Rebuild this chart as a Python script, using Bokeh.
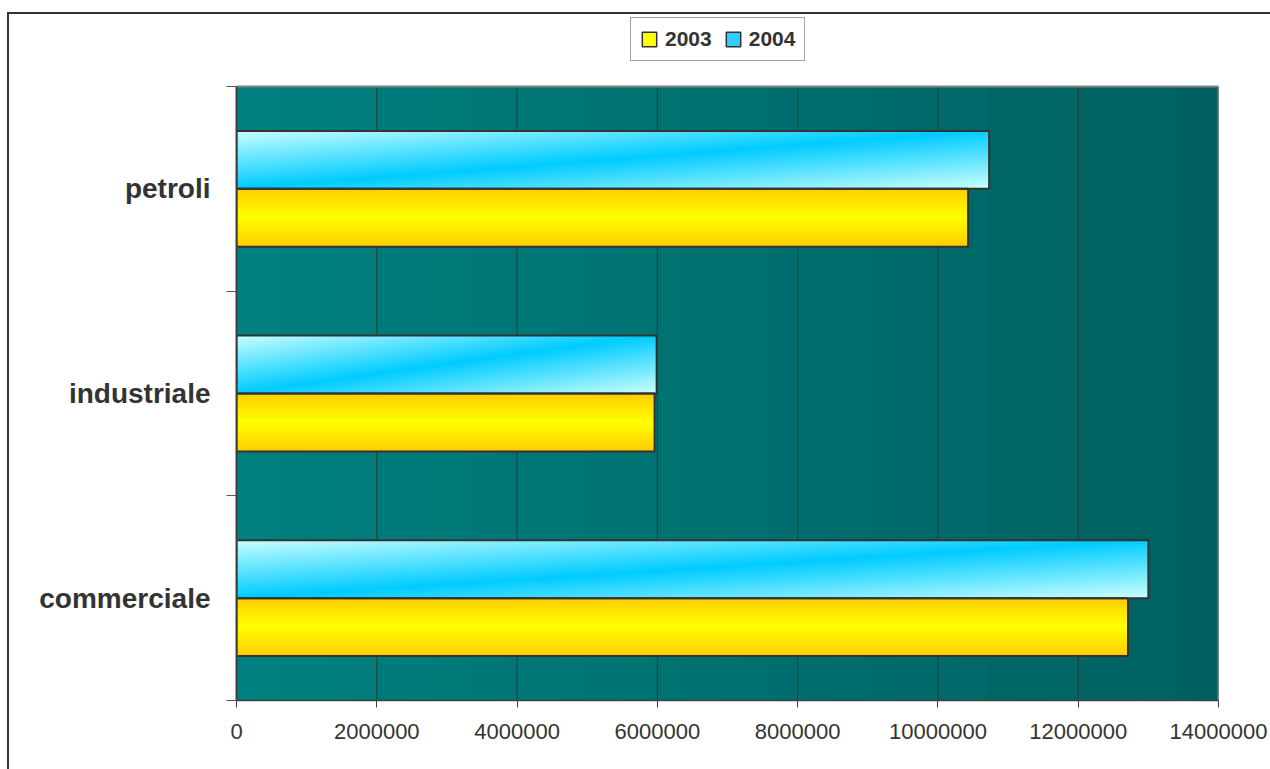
import numpy as np
from bokeh.plotting import figure
from bokeh.layouts import column
from bokeh.models import (FixedTicker, Legend, LegendItem, ColumnDataSource, Div)
from bokeh.embed import file_html
from bokeh.resources import INLINE

# ---- data -------------------------------------------------------------
categories = ["commerciale", "industriale", "petroli"]
series_names = ["2003", "2004"]
values_2003 = [12710000, 5960000, 10430000]
values_2004 = [13000000, 5990000, 10730000]
x_ticks = [0, 2000000, 4000000, 6000000, 8000000, 10000000, 12000000, 14000000]
x_tick_labels = ["0", "2000000", "4000000", "6000000", "8000000",
                 "10000000", "12000000", "14000000"]

# ---- colours ----------------------------------------------------------
YELLOW_MID = (255, 255, 0)
YELLOW_EDGE = (255, 204, 0)
CYAN = (0, 204, 255)
CYAN_LIGHT = (204, 255, 255)
TEAL_LEFT = (0, 128, 128)
TEAL_RIGHT = (0, 96, 96)
INK = "#333333"


def to_rgba(rgb):
    """Pack a (rows, cols, 3) float array into Bokeh's uint32 RGBA image."""
    rows, cols, _ = rgb.shape
    arr = np.empty((rows, cols, 4), dtype=np.uint8)
    arr[..., :3] = np.clip(np.round(rgb), 0, 255).astype(np.uint8)
    arr[..., 3] = 255
    return arr.view(np.uint32).reshape(rows, cols)


def lerp(c0, c1, t):
    c0 = np.array(c0, dtype=float)
    c1 = np.array(c1, dtype=float)
    return c0 + (c1 - c0) * t[..., None]


def yellow_fill(rows=64):
    b = (np.arange(rows) + 0.5) / rows             # 0 at top, 1 at bottom
    t = np.abs(2 * b - 1)[:, None] * np.ones((1, 2))
    img = lerp(YELLOW_MID, YELLOW_EDGE, t)
    return to_rgba(np.flipud(img))                 # image rows start at bottom


def cyan_fill(rows=64, cols=320):
    b = (np.arange(rows) + 0.5) / rows
    a = (np.arange(cols) + 0.5) / cols
    t = np.abs(a[None, :] + b[:, None] - 1)        # diagonal band
    img = lerp(CYAN, CYAN_LIGHT, t)
    return to_rgba(np.flipud(img))


def teal_fill(cols=256):
    a = (np.arange(cols) + 0.5) / cols
    t = np.ones((2, 1)) * a[None, :]
    return to_rgba(lerp(TEAL_LEFT, TEAL_RIGHT, t))


X_MAX = x_ticks[-1]
N = len(categories)

# The frame reaches up to the legend row; the plotting area itself
# spans y = 0..N (pixels 86..700), the band above holds the legend.
FRAME_TOP, AREA_TOP, AREA_BOTTOM = 14, 86, 700
y_top = N * (AREA_BOTTOM - FRAME_TOP) / (AREA_BOTTOM - AREA_TOP)

p = figure(width=1270, height=769, x_range=(0, X_MAX), y_range=(0, y_top),
           output_backend="svg", toolbar_location=None,
           min_border_left=236, min_border_right=52,
           min_border_top=FRAME_TOP, min_border_bottom=769 - AREA_BOTTOM)
p.background_fill_color = "white"
p.border_fill_color = "white"
p.outline_line_color = None
p.xgrid.visible = False
p.ygrid.visible = False

# plot-area gradient
p.image_rgba(image=[teal_fill()], x=0, y=0, dw=X_MAX, dh=N, level="image")

# vertical grid lines at the value ticks
p.segment(x0=x_ticks, y0=0, x1=x_ticks, y1=N, line_color="#2a3a3a",
          line_width=1)

# top and right edges of the plotting area
p.line(x=[0, X_MAX, X_MAX], y=[N, N, 0], line_color="#808080", line_width=2)

# ---- bars -------------------------------------------------------------
bar_h = 0.283
centers = np.arange(N) + 0.5
y03 = centers - bar_h / 2
y04 = centers + bar_h / 2

img_src = ColumnDataSource(dict(
    image=[yellow_fill() for _ in categories] + [cyan_fill() for _ in categories],
    x=[0] * (2 * N),
    y=list(y03 - bar_h / 2) + list(y04 - bar_h / 2),
    dw=list(values_2003) + list(values_2004),
    dh=[bar_h] * (2 * N),
))
p.image_rgba(image="image", x="x", y="y", dw="dw", dh="dh", source=img_src)

p.hbar(y=y03, height=bar_h, left=0, right=values_2003,
       fill_alpha=0, line_color=INK, line_width=2)
p.hbar(y=y04, height=bar_h, left=0, right=values_2004,
       fill_alpha=0, line_color=INK, line_width=2)

# legend swatches (kept below the visible range)
sw03 = p.hbar(y=[-5], height=[0.1], left=[0], right=[1], fill_color="#FFFF00",
              line_color=INK, line_width=1.5)
sw04 = p.hbar(y=[-5], height=[0.1], left=[0], right=[1], fill_color="#33CCFF",
              line_color=INK, line_width=1.5)

legend = Legend(items=[LegendItem(label=series_names[0], renderers=[sw03]),
                       LegendItem(label=series_names[1], renderers=[sw04])],
                orientation="horizontal", location=(394, AREA_BOTTOM - 61),
                glyph_width=18, glyph_height=18, label_standoff=7,
                spacing=12, padding=9, margin=0,
                label_text_font="Liberation Sans",
                label_text_font_style="bold",
                label_text_font_size="21px", label_text_color=INK,
                border_line_color="#444444", border_line_width=1.5,
                background_fill_color="white", background_fill_alpha=1)
p.add_layout(legend)

# ---- axes -------------------------------------------------------------
xa = p.xaxis[0]
xa.ticker = FixedTicker(ticks=x_ticks)
xa.major_label_overrides = dict(zip(x_ticks, x_tick_labels))
xa.major_tick_out = 7
xa.major_tick_in = 0
xa.minor_tick_out = 0
xa.minor_tick_in = 0
xa.major_label_standoff = 16
xa.major_label_text_font = "Liberation Sans"
xa.major_label_text_font_size = "22px"
xa.major_label_text_color = INK
xa.axis_line_color = "#404040"
xa.axis_line_width = 1.5
xa.major_tick_line_color = "#404040"

ya = p.yaxis[0]
ya.bounds = (0, N)
ya.ticker = FixedTicker(ticks=list(centers), minor_ticks=list(range(N + 1)))
ya.major_label_overrides = dict(zip(list(centers), categories))
ya.major_tick_out = 0
ya.major_tick_in = 0
ya.minor_tick_out = 10
ya.minor_tick_in = 0
ya.minor_tick_line_color = "#555555"
ya.major_label_standoff = 16
ya.major_label_text_font = "Liberation Sans"
ya.major_label_text_font_style = "bold"
ya.major_label_text_font_size = "28px"
ya.major_label_text_color = INK
ya.axis_line_color = "#404040"
ya.axis_line_width = 2

# outer chart border, laid over the figure
chart_border = Div(text="", width=1300, height=800, margin=0,
                   styles={"position": "absolute", "left": "7px", "top": "12px",
                           "border-left": "2px solid #333333",
                           "border-top": "2px solid #333333",
                           "pointer-events": "none", "z-index": "10"})

root = column(p, chart_border)
open("out.html", "w").write(file_html(root, INLINE))
